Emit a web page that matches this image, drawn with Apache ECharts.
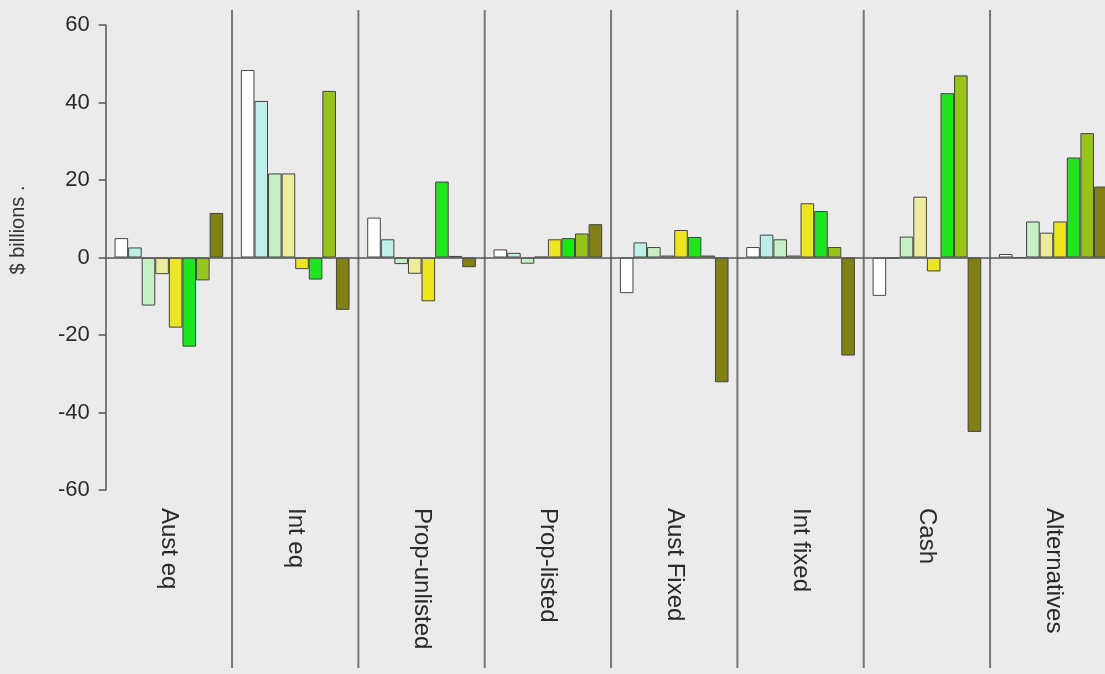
<!DOCTYPE html>
<html>
<head>
<meta charset="utf-8">
<script src="https://cdn.jsdelivr.net/npm/echarts@6/dist/echarts.min.js"></script>
<style>
html,body{margin:0;padding:0;background:#ebebeb;overflow:hidden;width:1105px;height:674px;}
#c{width:1117px;height:674px;}
</style>
</head>
<body>
<div id="c"></div>
<script>
const categories = ['Aust eq','Int eq','Prop-unlisted','Prop-listed','Aust Fixed','Int fixed','Cash','Alternatives'];
const yMin = -60, yMax = 60, yStep = 20;
const yTitle = '$ billions .';
const s1 = [5.0, 48.4, 10.3, 2.1, -9.2, 2.7, -9.9, 0.9];
const s2 = [2.6, 40.4, 4.7, 1.2, 3.9, 5.9, -0.3, 0];
const s3 = [-12.4, 21.7, -1.7, -1.6, 2.7, 4.7, 5.4, 9.3];
const s4 = [-4.3, 21.7, -4.2, 0.2, 0.5, 0.5, 15.7, 6.4];
const s5 = [-18.1, -3.0, -11.3, 4.7, 7.1, 14.0, -3.6, 9.3];
const s6 = [-23.0, -5.7, 19.6, 5.0, 5.3, 12.0, 42.4, 25.8];
const s7 = [-5.9, 43.0, 0.4, 6.2, 0.5, 2.7, 47.0, 32.1];
const s8 = [11.5, -13.5, -2.5, 8.6, -32.2, -25.3, -45.0, 18.3];
const seriesData = [s1, s2, s3, s4, s5, s6, s7, s8];
const colors = ['#ffffff','#bdeee8','#c6efc6','#eeeb9c','#ebe61e','#1fe51f','#98c31d','#808014'];

const chart = echarts.init(document.getElementById('c'));
const font = 'Liberation Sans, Arial, sans-serif';
const series = seriesData.map((d, i) => {
  const s = {
    type: 'bar',
    data: d,
    barGap: '0%',
    barCategoryGap: '14%',
    itemStyle: {color: colors[i], borderColor: '#444', borderWidth: 1},
    silent: true
  };
  if (i === 0) {
    s.markLine = {
      silent: true, symbol: ['none','none'],
      label: {show: false},
      lineStyle: {color: '#555', width: 1.5, type: 'solid'},
      data: [{yAxis: 0}]
    };
  }
  return s;
});
chart.setOption({
  backgroundColor: '#ebebeb',
  animation: false,
  grid: {left: 105.7, right: 0.6, top: 25, bottom: 184, containLabel: false},
  xAxis: {
    type: 'category', data: categories,
    axisLine: {show: false, onZero: false},
    axisTick: {show: false},
    splitLine: {show: false},
    axisLabel: {rotate: -90, margin: 18, fontSize: 24, color: '#2a2a2a', fontFamily: font}
  },
  yAxis: {
    type: 'value', min: yMin, max: yMax, interval: yStep,
    axisLine: {show: true, lineStyle: {color: '#555', width: 1.5}},
    axisTick: {show: true, length: 7, lineStyle: {color: '#555', width: 1.5}},
    splitLine: {show: false},
    axisLabel: {margin: 16, fontSize: 22, color: '#2a2a2a', fontFamily: font}
  },
  series: series
});

// separators between categories, computed from the category axis
const graphics = [];
for (let i = 0; i < categories.length - 1; i++) {
  const a = chart.convertToPixel({xAxisIndex: 0}, i);
  const b = chart.convertToPixel({xAxisIndex: 0}, i + 1);
  const x = (a + b) / 2;
  graphics.push({type: 'line', shape: {x1: x, y1: 10, x2: x, y2: 668},
    style: {stroke: '#777', lineWidth: 2}, silent: true});
}
graphics.push({type: 'text', x: 8, y: 230, rotation: Math.PI / 2,
  style: {text: yTitle, font: '20px ' + font, fill: '#333', align: 'center', verticalAlign: 'top'}});
chart.setOption({graphic: graphics});
</script>
</body>
</html>
